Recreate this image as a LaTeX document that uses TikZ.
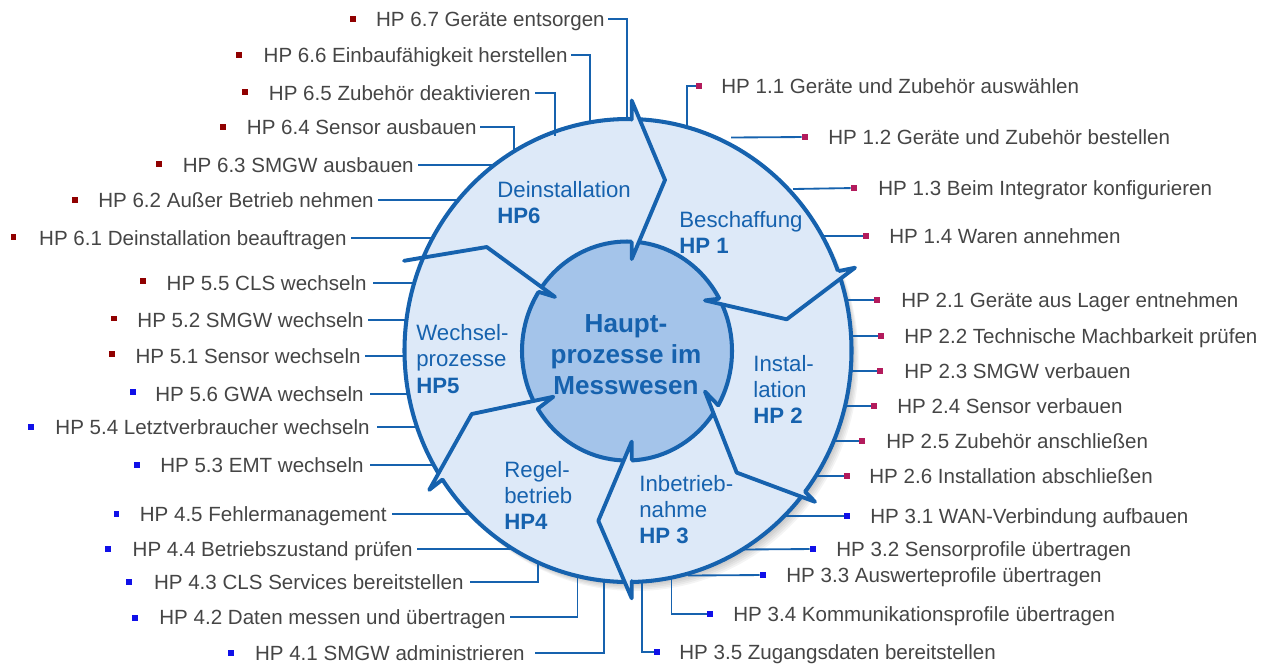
\documentclass[tikz,border=0pt]{standalone}
\usepackage{fontspec}
\setmainfont{Liberation Sans}
\definecolor{ring}{HTML}{DDE9F8}
\definecolor{core}{HTML}{A4C4EA}
\definecolor{edge}{HTML}{1662AE}
\definecolor{ttxt}{HTML}{454545}
\definecolor{cred}{HTML}{900000}
\definecolor{cmag}{HTML}{B31B5C}
\definecolor{cblu}{HTML}{1010E8}
\tikzset{
  lbl/.style={inner sep=0pt, text=ttxt, font=\fontsize{11.7}{14}\selectfont, text height=8.4pt, text depth=0pt},
  inl/.style={inner sep=0pt, text=edge, font=\fontsize{12.65}{15}\selectfont, text height=9.05pt, text depth=0pt, anchor=west},
  inb/.style={inl, font=\fontsize{12.65}{15}\selectfont\bfseries},
  ctr/.style={inner sep=0pt, text=edge, font=\fontsize{14.85}{17}\selectfont\bfseries, text height=10.6pt, text depth=0pt},
  bul/.style={inner sep=0pt, minimum size=3.4pt, fill=#1},
  conn/.style={draw=edge, line width=1.05pt},
  chev/.style={draw=edge, line width=2.2pt, line join=round, line cap=round},
}
\begin{document}
\begin{tikzpicture}[x=0.02cm, y=-0.02cm]
\useasboundingbox (0,0) rectangle (1277,664);
% shadow
\foreach \k in {1,...,6} {
  \fill[black, opacity=0.045] (628+1.2*\k, 350.5+1.5*\k) ellipse [x radius=223.5, y radius=231.5];
}
% ring and core
\draw[fill=ring, draw=edge, line width=2.3pt] (628,350.5) ellipse [x radius=223.5, y radius=231.5];
\draw[fill=core, draw=edge, line width=2.3pt] (627,351) ellipse [x radius=105, y radius=109.5];
% chevrons (arrow heads)
\fill[ring] (631.7,119.6) -- (631.7,100.5) -- (665,180) -- (631.7,259) -- (631.7,242) -- cycle;
\draw[chev] (631.7,119.6) -- (631.7,100.5) -- (665,180) -- (631.7,259) -- (631.7,242);
\fill[ring] (839,271) -- (855,267.7) -- (786.7,319.3) -- (705,300.4) -- (719,298.7) -- cycle;
\draw[chev] (839,271) -- (855,267.7) -- (786.7,319.3) -- (705,300.4) -- (719,298.7);
\fill[ring] (805,491.5) -- (815,501.8) -- (736.7,472.6) -- (705,391.6) -- (718.3,405.4) -- cycle;
\draw[chev] (805,491.5) -- (815,501.8) -- (736.7,472.6) -- (705,391.6) -- (718.3,405.4);
\fill[ring] (631.7,581) -- (631.7,598.3) -- (598.3,520.8) -- (631.7,441.6) -- (631.7,460) -- cycle;
\draw[chev] (631.7,581) -- (631.7,598.3) -- (598.3,520.8) -- (631.7,441.6) -- (631.7,460);
\fill[ring] (442.5,479.5) -- (429.3,489.8) -- (471.7,414) -- (553.3,396.8) -- (537.5,408.9) -- cycle;
\draw[chev] (442.5,479.5) -- (429.3,489.8) -- (471.7,414) -- (553.3,396.8) -- (537.5,408.9);
\fill[ring] (423,257.5) -- (404,260.8) -- (486.7,247) -- (555,296.9) -- (538.5,291.8) -- cycle;
\draw[chev] (423,257.5) -- (404,260.8) -- (486.7,247) -- (555,296.9) -- (538.5,291.8);
% inner labels
\node[inl] (d6a) at (497,190) {Deinstallation};
\node[inb] (d6b) at (497,216) {HP6};
\node[inl] (d1a) at (679,219.5) {Beschaffung};
\node[inb] (d1b) at (679,246) {HP 1};
\node[inl] (d2a) at (753,364) {Instal-};
\node[inl] (d2b) at (753,390) {lation};
\node[inb] (d2c) at (753,416) {HP 2};
\node[inl] (d3a) at (639,484) {Inbetrieb-};
\node[inl] (d3b) at (639,510) {nahme};
\node[inb] (d3c) at (639,536) {HP 3};
\node[inl] (d4a) at (504,470) {Regel-};
\node[inl] (d4b) at (504,495.5) {betrieb};
\node[inb] (d4c) at (504,521.5) {HP4};
\node[inl] (d5a) at (416,333) {Wechsel-};
\node[inl] (d5b) at (416,359) {prozesse};
\node[inb] (d5c) at (416,386) {HP5};
% center
\node[ctr] (m1) at (626,323) {Haupt-};
\node[ctr] (m2) at (626,354) {prozesse im};
\node[ctr] (m3) at (626,385) {Messwesen};
% ---- left labels ----
\node[lbl, anchor=east] (t67) at (605,19) {HP 6.7 Geräte entsorgen};
\node[bul=cred] (b67) at (353,19) {};
\coordinate (c67) at (627,118.5);
\draw[conn] (t67.east) ++(3,0) -| (c67);
\node[lbl, anchor=east] (t66) at (568,55) {HP 6.6 Einbaufähigkeit herstellen};
\node[bul=cred] (b66) at (239,55) {};
\coordinate (c66) at (590,122.5);
\draw[conn] (t66.east) ++(3,0) -| (c66);
\node[lbl, anchor=east] (t65) at (531,93) {HP 6.5 Zubehör deaktivieren};
\node[bul=cred] (b65) at (245,92) {};
\coordinate (c65) at (555,136);
\draw[conn] (t65.east) ++(4,0) -| (c65);
\node[lbl, anchor=east] (t64) at (477,127) {HP 6.4 Sensor ausbauen};
\node[bul=cred] (b64) at (223,127) {};
\coordinate (c64) at (514,151);
\draw[conn] (t64.east) ++(3,0) -| (c64);
\node[lbl, anchor=east] (t63) at (414,165) {HP 6.3 SMGW ausbauen};
\node[bul=cred] (b63) at (159,164) {};
\coordinate (c63) at (495,165);
\draw[conn] (t63.east) ++(4,0) -- (c63);
\node[lbl, anchor=east] (t62) at (374,200) {HP 6.2 Außer Betrieb nehmen};
\node[bul=cred] (b62) at (75,200) {};
\coordinate (c62) at (459,200);
\draw[conn] (t62.east) ++(4,0) -- (c62);
\node[lbl, anchor=east] (t61) at (347,238) {HP 6.1 Deinstallation beauftragen};
\node[bul=cred] (b61) at (13.5,237) {};
\coordinate (c61) at (433,238);
\draw[conn] (t61.east) ++(4,0) -- (c61);
\node[lbl, anchor=east] (t55) at (367,283) {HP 5.5 CLS wechseln};
\node[bul=cred] (b55) at (143,281) {};
\coordinate (c55) at (414.5,283);
\draw[conn] (t55.east) ++(6,0) -- (c55);
\node[lbl, anchor=east] (t52) at (364,320) {HP 5.2 SMGW wechseln};
\node[bul=cred] (b52) at (114,318.5) {};
\coordinate (c52) at (407,320);
\draw[conn] (t52.east) ++(4,0) -- (c52);
\node[lbl, anchor=east] (t51) at (361,356) {HP 5.1 Sensor wechseln};
\node[bul=cred] (b51) at (112,354) {};
\coordinate (c51) at (405,356);
\draw[conn] (t51.east) ++(4,0) -- (c51);
\node[lbl, anchor=east] (t56) at (364,394) {HP 5.6 GWA wechseln};
\node[bul=cblu] (b56) at (133,392) {};
\coordinate (c56) at (409,394);
\draw[conn] (t56.east) ++(6,0) -- (c56);
\node[lbl, anchor=east] (t54) at (370,427) {HP 5.4 Letztverbraucher wechseln};
\node[bul=cblu] (b54) at (31,427) {};
\coordinate (c54) at (417.5,427);
\draw[conn] (t54.east) ++(7,0) -- (c54);
\node[lbl, anchor=east] (t53) at (364,465) {HP 5.3 EMT wechseln};
\node[bul=cblu] (b53) at (137,465) {};
\coordinate (c53) at (434,465);
\draw[conn] (t53.east) ++(6,0) -- (c53);
\node[lbl, anchor=east] (t45) at (387,514) {HP 4.5 Fehlermanagement};
\node[bul=cblu] (b45) at (116.5,514) {};
\coordinate (c45) at (470,514);
\draw[conn] (t45.east) ++(5,0) -- (c45);
\node[lbl, anchor=east] (t44) at (413,549) {HP 4.4 Betriebszustand prüfen};
\node[bul=cblu] (b44) at (108,549) {};
\coordinate (c44) at (513,549);
\draw[conn] (t44.east) ++(4,0) -- (c44);
\node[lbl, anchor=east] (t43) at (464,582) {HP 4.3 CLS Services bereitstellen};
\node[bul=cblu] (b43) at (129,582) {};
\coordinate (c43) at (538,563);
\draw[conn] (t43.east) ++(6,0) -| (c43);
\node[lbl, anchor=east] (t42) at (506,617) {HP 4.2 Daten messen und übertragen};
\node[bul=cblu] (b42) at (135,617.5) {};
\coordinate (c42) at (577.5,576.5);
\draw[conn] (t42.east) ++(4,0) -| (c42);
\node[lbl, anchor=east] (t41) at (525,653) {HP 4.1 SMGW administrieren};
\node[bul=cblu] (b41) at (231,652.5) {};
\coordinate (c41) at (604,581);
\draw[conn] (t41.east) ++(10,0) -| (c41);
% ---- right labels ----
\node[bul=cmag] (b11) at (699,86) {};
\node[lbl, anchor=west] (t11) at (721,86) {HP 1.1 Geräte und Zubehör auswählen};
\coordinate (c11) at (687,127);
\draw[conn] (c11) |- (b11);
\node[bul=cmag] (b12) at (805,137) {};
\node[lbl, anchor=west] (t12) at (828,137) {HP 1.2 Geräte und Zubehör bestellen};
\coordinate (c12) at (731,137.5);
\draw[conn] (c12) -- (b12);
\node[bul=cmag] (b13) at (854,188) {};
\node[lbl, anchor=west] (t13) at (878,188) {HP 1.3 Beim Integrator konfigurieren};
\coordinate (c13) at (793,189);
\draw[conn] (c13) -- (b13);
\node[bul=cmag] (b14) at (866,236) {};
\node[lbl, anchor=west] (t14) at (889,236) {HP 1.4 Waren annehmen};
\coordinate (c14) at (823,236);
\draw[conn] (c14) -- (b14);
\node[bul=cmag] (b21) at (877,300) {};
\node[lbl, anchor=west] (t21) at (901,300) {HP 2.1 Geräte aus Lager entnehmen};
\coordinate (c21) at (847,300);
\draw[conn] (c21) -- (b21);
\node[bul=cmag] (b22) at (881,336) {};
\node[lbl, anchor=west] (t22) at (904,336) {HP 2.2 Technische Machbarkeit prüfen};
\coordinate (c22) at (852,336);
\draw[conn] (c22) -- (b22);
\node[bul=cmag] (b23) at (880,371) {};
\node[lbl, anchor=west] (t23) at (904,371) {HP 2.3 SMGW verbauen};
\coordinate (c23) at (851,371);
\draw[conn] (c23) -- (b23);
\node[bul=cmag] (b24) at (874,406) {};
\node[lbl, anchor=west] (t24) at (897,406) {HP 2.4 Sensor verbauen};
\coordinate (c24) at (845.5,406);
\draw[conn] (c24) -- (b24);
\node[bul=cmag] (b25) at (862,441) {};
\node[lbl, anchor=west] (t25) at (886,441) {HP 2.5 Zubehör anschließen};
\coordinate (c25) at (834,441);
\draw[conn] (c25) -- (b25);
\node[bul=cmag] (b26) at (847,476) {};
\node[lbl, anchor=west] (t26) at (869,476) {HP 2.6 Installation abschließen};
\coordinate (c26) at (816,476);
\draw[conn] (c26) -- (b26);
\node[bul=cblu] (b31) at (847,516) {};
\node[lbl, anchor=west] (t31) at (870,516) {HP 3.1 WAN-Verbindung aufbauen};
\coordinate (c31) at (785,516);
\draw[conn] (c31) -- (b31);
\node[bul=cblu] (b32) at (813,549) {};
\node[lbl, anchor=west] (t32) at (836,549) {HP 3.2 Sensorprofile übertragen};
\coordinate (c32) at (742,549.5);
\draw[conn] (c32) -- (b32);
\node[bul=cblu] (b33) at (763,575) {};
\node[lbl, anchor=west] (t33) at (786,575) {HP 3.3 Auswerteprofile übertragen};
\coordinate (c33) at (688,575.5);
\draw[conn] (c33) -- (b33);
\node[bul=cblu] (b34) at (710,614) {};
\node[lbl, anchor=west] (t34) at (733,614) {HP 3.4 Kommunikationsprofile übertragen};
\coordinate (c34) at (671.5,578);
\draw[conn] (c34) |- (b34);
\node[bul=cblu] (b35) at (657,652) {};
\node[lbl, anchor=west] (t35) at (679,652) {HP 3.5 Zugangsdaten bereitstellen};
\coordinate (c35) at (642,581.5);
\draw[conn] (c35) |- (b35);
\end{tikzpicture}
\end{document}
